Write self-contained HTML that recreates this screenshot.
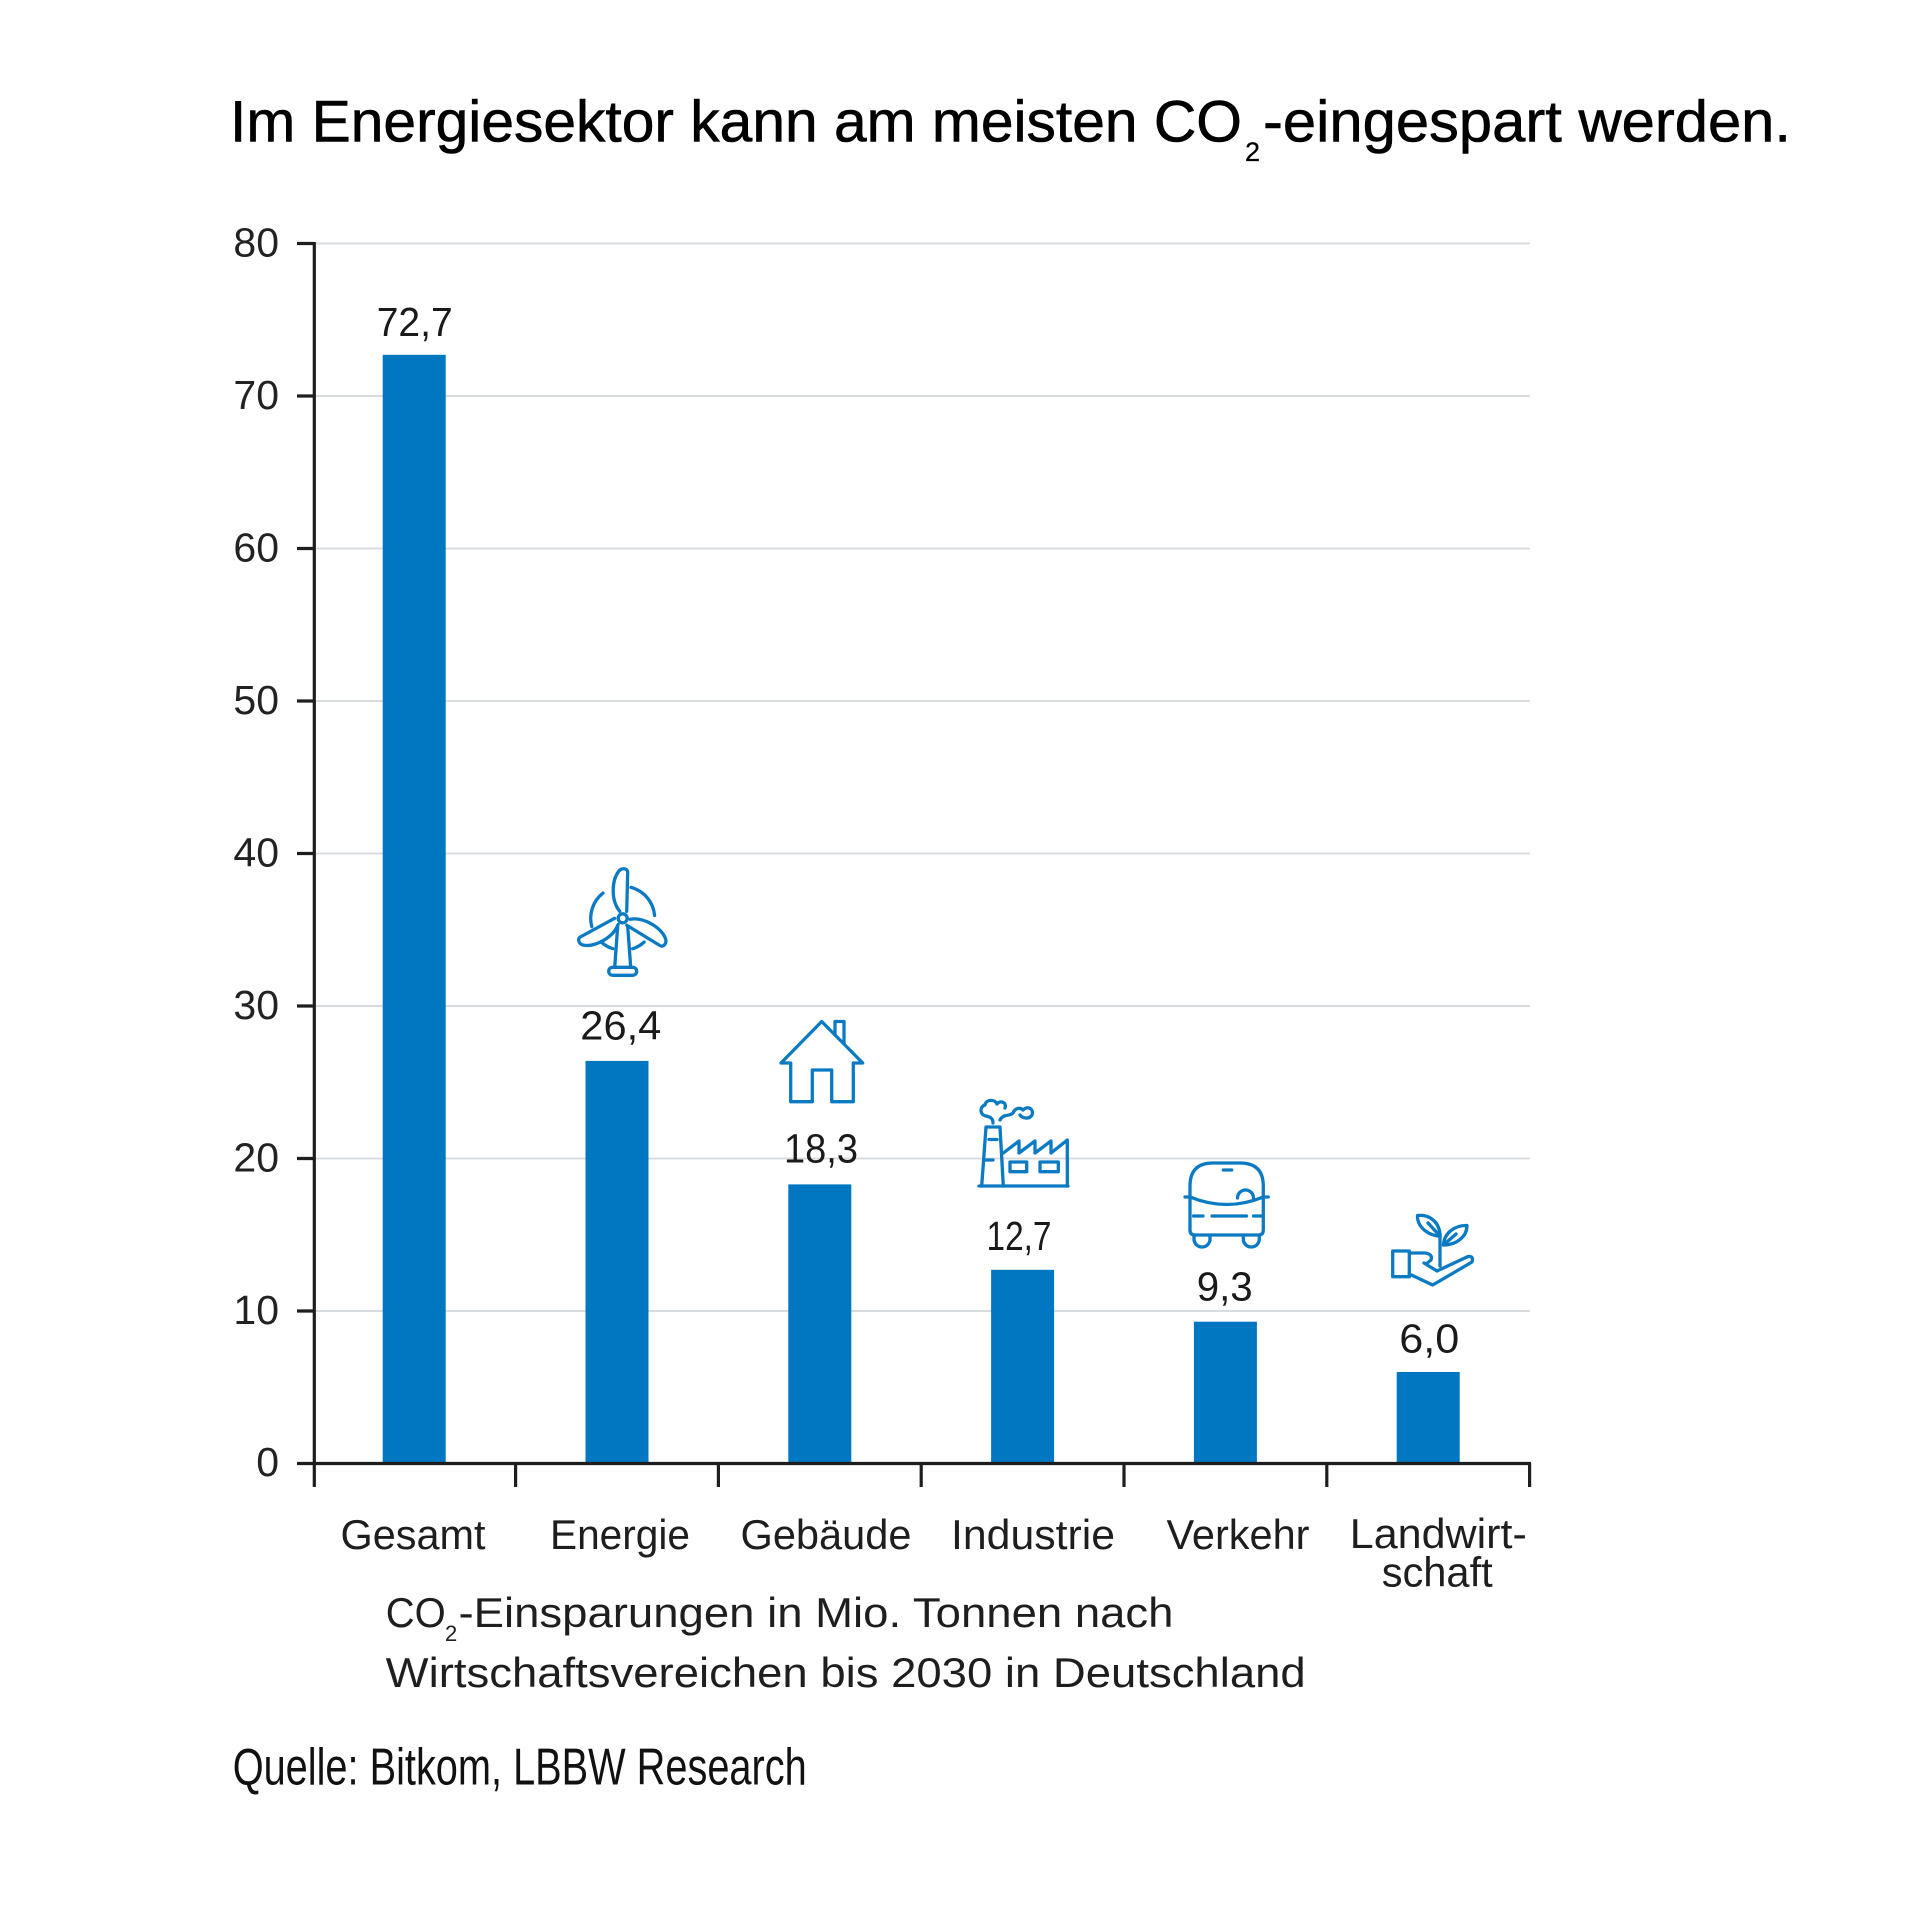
<!DOCTYPE html>
<html>
<head>
<meta charset="utf-8">
<style>
  html,body{margin:0;padding:0;background:#fff;}
  svg{display:block;}
  text{font-family:"Liberation Sans", sans-serif;}
</style>
</head>
<body>
<svg width="1920" height="1920" viewBox="0 0 1920 1920" xmlns="http://www.w3.org/2000/svg">
  <rect x="0" y="0" width="1920" height="1920" fill="#ffffff"/>

  <!-- Title -->
  <g fill="#000" stroke="#000" stroke-width="0.6">
    <text x="230" y="141.7" font-size="58.5" textLength="1012" lengthAdjust="spacingAndGlyphs">Im Energiesektor kann am meisten CO</text>
    <text x="1245" y="161" font-size="27" stroke-width="0.3">2</text>
    <text x="1263" y="141.7" font-size="58.5" textLength="528" lengthAdjust="spacingAndGlyphs">-eingespart werden.</text>
  </g>

  <!-- Gridlines -->
  <g stroke="#d8dcdf" stroke-width="2">
    <line x1="316" y1="243.5" x2="1530" y2="243.5"/>
    <line x1="316" y1="396" x2="1530" y2="396"/>
    <line x1="316" y1="548.5" x2="1530" y2="548.5"/>
    <line x1="316" y1="701" x2="1530" y2="701"/>
    <line x1="316" y1="853.5" x2="1530" y2="853.5"/>
    <line x1="316" y1="1006" x2="1530" y2="1006"/>
    <line x1="316" y1="1158.5" x2="1530" y2="1158.5"/>
    <line x1="316" y1="1311" x2="1530" y2="1311"/>
  </g>

  <!-- Bars -->
  <g fill="#0077c0">
    <rect x="382.7" y="354.8" width="63" height="1108.7"/>
    <rect x="585.5" y="1060.9" width="63" height="402.6"/>
    <rect x="788.3" y="1184.4" width="63" height="279.1"/>
    <rect x="991.1" y="1269.8" width="63" height="193.7"/>
    <rect x="1193.9" y="1321.7" width="63" height="141.8"/>
    <rect x="1396.7" y="1372" width="63" height="91.5"/>
  </g>

  <!-- Axes -->
  <g stroke="#1e1e1e" stroke-width="3.2" fill="none">
    <line x1="314.3" y1="242" x2="314.3" y2="1487"/>
    <line x1="313" y1="1463.5" x2="1531" y2="1463.5"/>
    <line x1="297" y1="243.5" x2="314" y2="243.5"/>
    <line x1="297" y1="396" x2="314" y2="396"/>
    <line x1="297" y1="548.5" x2="314" y2="548.5"/>
    <line x1="297" y1="701" x2="314" y2="701"/>
    <line x1="297" y1="853.5" x2="314" y2="853.5"/>
    <line x1="297" y1="1006" x2="314" y2="1006"/>
    <line x1="297" y1="1158.5" x2="314" y2="1158.5"/>
    <line x1="297" y1="1311" x2="314" y2="1311"/>
    <line x1="297" y1="1463.5" x2="314" y2="1463.5"/>
    <line x1="515.6" y1="1463" x2="515.6" y2="1487"/>
    <line x1="718.4" y1="1463" x2="718.4" y2="1487"/>
    <line x1="921.2" y1="1463" x2="921.2" y2="1487"/>
    <line x1="1124" y1="1463" x2="1124" y2="1487"/>
    <line x1="1326.8" y1="1463" x2="1326.8" y2="1487"/>
    <line x1="1529.6" y1="1463" x2="1529.6" y2="1487"/>
  </g>

  <!-- Y tick labels -->
  <g font-size="41" fill="#222" text-anchor="end">
    <text x="279" y="256.5">80</text>
    <text x="279" y="409">70</text>
    <text x="279" y="561.5">60</text>
    <text x="279" y="714">50</text>
    <text x="279" y="866.5">40</text>
    <text x="279" y="1019">30</text>
    <text x="279" y="1171.5">20</text>
    <text x="279" y="1324">10</text>
    <text x="279" y="1476">0</text>
  </g>

  <!-- Value labels -->
  <g font-size="41" fill="#1a1a1a" text-anchor="middle">
    <text x="414.7" y="336" textLength="76" lengthAdjust="spacingAndGlyphs">72,7</text>
    <text x="620.8" y="1039.3" textLength="81" lengthAdjust="spacingAndGlyphs">26,4</text>
    <text x="821" y="1162.7" textLength="74" lengthAdjust="spacingAndGlyphs">18,3</text>
    <text x="1019" y="1250" textLength="65" lengthAdjust="spacingAndGlyphs">12,7</text>
    <text x="1224.7" y="1300.7" textLength="56" lengthAdjust="spacingAndGlyphs">9,3</text>
    <text x="1429.3" y="1352.7" textLength="60" lengthAdjust="spacingAndGlyphs">6,0</text>
  </g>

  <!-- Category labels -->
  <g font-size="42" fill="#1e1e1e" text-anchor="middle">
    <text x="413" y="1549" textLength="145" lengthAdjust="spacingAndGlyphs">Gesamt</text>
    <text x="620" y="1549" textLength="140" lengthAdjust="spacingAndGlyphs">Energie</text>
    <text x="826" y="1549" textLength="171" lengthAdjust="spacingAndGlyphs">Gebäude</text>
    <text x="1033" y="1549" textLength="164" lengthAdjust="spacingAndGlyphs">Industrie</text>
    <text x="1238" y="1549" textLength="143" lengthAdjust="spacingAndGlyphs">Verkehr</text>
    <text x="1438.3" y="1548" textLength="177" lengthAdjust="spacingAndGlyphs">Landwirt-</text>
    <text x="1437.2" y="1586.7" textLength="111" lengthAdjust="spacingAndGlyphs">schaft</text>
  </g>

  <!-- Subtitle -->
  <g fill="#1e1e1e">
    <text x="385.7" y="1627" font-size="42" textLength="60" lengthAdjust="spacingAndGlyphs">CO</text>
    <text x="445" y="1641" font-size="22">2</text>
    <text x="458.5" y="1627" font-size="42" textLength="715" lengthAdjust="spacingAndGlyphs">-Einsparungen in Mio. Tonnen nach</text>
    <text x="385.7" y="1687" font-size="42" textLength="920" lengthAdjust="spacingAndGlyphs">Wirtschaftsvereichen bis 2030 in Deutschland</text>
  </g>

  <!-- Source -->
  <text x="232.7" y="1784.6" font-size="52" fill="#111" textLength="574" lengthAdjust="spacingAndGlyphs">Quelle: Bitkom, LBBW Research</text>

  <!-- Icons -->
  <g stroke="#0a7bc2" stroke-width="3.3" fill="none" stroke-linecap="round" stroke-linejoin="round">
    <!-- Wind turbine -->
    <g transform="translate(622.7,918.3)">
      <path d="M -3,-7 C -12,-18 -11,-38 -4,-47 C -1,-51 5,-50 5,-46 L 4,-7"/>
      <path transform="rotate(120)" d="M -3,-7 C -12,-18 -11,-38 -4,-47 C -1,-51 5,-50 5,-46 L 4,-7"/>
      <path transform="rotate(240)" d="M -3,-7 C -12,-18 -11,-38 -4,-47 C -1,-51 5,-50 5,-46 L 4,-7"/>
      <circle cx="0" cy="0" r="4.5"/>
      <path d="M -30.9,8.3 A 32 32 0 0 1 -19.7,-25.2"/>
      <path d="M 8.3,-30.9 A 32 32 0 0 1 31.9,-2.8"/>
      <path d="M 21.4,23.8 A 32 32 0 0 1 9.9,30.4"/>
      <path d="M -9.9,30.4 A 32 32 0 0 1 -21.4,23.8"/>
      <path d="M -5,8 L -8,49"/>
      <path d="M 5,8 L 8,49"/>
      <rect x="-14" y="49" width="28" height="8" rx="4"/>
    </g>

    <!-- House -->
    <path d="M 790.7,1101.7 V 1063 H 781 L 821.7,1021.5 L 862.7,1063 H 853.3 V 1101.7 H 831.7 V 1070 H 812.3 V 1101.7 Z"/>
    <path d="M 835,1034.8 V 1021.5 H 844 V 1043.8"/>

    <!-- Factory -->
    <path d="M 979,1186 H 1068"/>
    <path d="M 981.7,1186 L 986,1127 H 1000 L 1003.3,1186"/>
    <path d="M 989,1139.5 H 997"/>
    <path d="M 985,1160 H 993"/>
    <path d="M 1003.3,1153 L 1019,1141 V 1153 L 1035,1141 V 1153 L 1051,1141 V 1153 L 1067.3,1140 V 1186"/>
    <rect x="1010" y="1162" width="16.7" height="9.7"/>
    <rect x="1040" y="1162" width="18.3" height="9.7"/>
    <path d="M 993,1123 C 993,1118 990,1117 986,1116 C 980,1115 979,1107 985,1105 C 986,1099 995,1099 997,1104 C 1000,1100 1007,1102 1005,1108"/>
    <path d="M 1000,1120 C 1004,1113 1009,1117 1013,1113 C 1015,1108 1020,1107 1023,1110 C 1028,1105 1034,1109 1032,1115 C 1029,1120 1022,1118 1020,1115"/>

    <!-- Car -->
    <path d="M 1190,1230 V 1186 Q 1190,1163 1213,1163 H 1240 Q 1263.3,1163 1263.3,1186 V 1230 Q 1263.3,1235 1258.3,1235 H 1195 Q 1190,1235 1190,1230 Z"/>
    <path d="M 1185,1197 H 1190"/>
    <path d="M 1263.3,1197 H 1268.3"/>
    <path d="M 1190,1197 Q 1226.7,1212 1263.3,1197"/>
    <path d="M 1237.5,1198 A 8 8 0 0 1 1253.5,1198"/>
    <path d="M 1223.3,1170 H 1231.7"/>
    <path d="M 1193.5,1216 H 1203"/>
    <path d="M 1212,1216 H 1246.5"/>
    <path d="M 1253.5,1216 H 1263"/>
    <path d="M 1194,1235 V 1239 A 8 8 0 0 0 1210,1239 V 1235"/>
    <path d="M 1243.3,1235 V 1239 A 8 8 0 0 0 1259.3,1239 V 1235"/>

    <!-- Plant in hand -->
    <rect x="1392.7" y="1251" width="16.6" height="25.7"/>
    <path d="M 1409.3,1253 H 1425 Q 1433,1254 1431,1260 L 1426,1264"/>
    <path d="M 1424,1263 L 1437,1271 L 1468,1256.5 Q 1474,1256 1472,1262 L 1432.7,1285 L 1409.3,1274"/>
    <path d="M 1440,1266 V 1234"/>
    <path d="M 1440,1236 C 1430,1236 1417,1228 1417.5,1215.5 C 1429,1214 1440,1222 1440,1236 Z"/>
    <path d="M 1440,1236 L 1428,1223"/>
    <path d="M 1443.5,1245 C 1444,1233 1455,1225 1467,1225.5 C 1467,1237 1456,1245 1443.5,1245 Z"/>
    <path d="M 1443.5,1245 L 1456,1234"/>
  </g>
</svg>
</body>
</html>
